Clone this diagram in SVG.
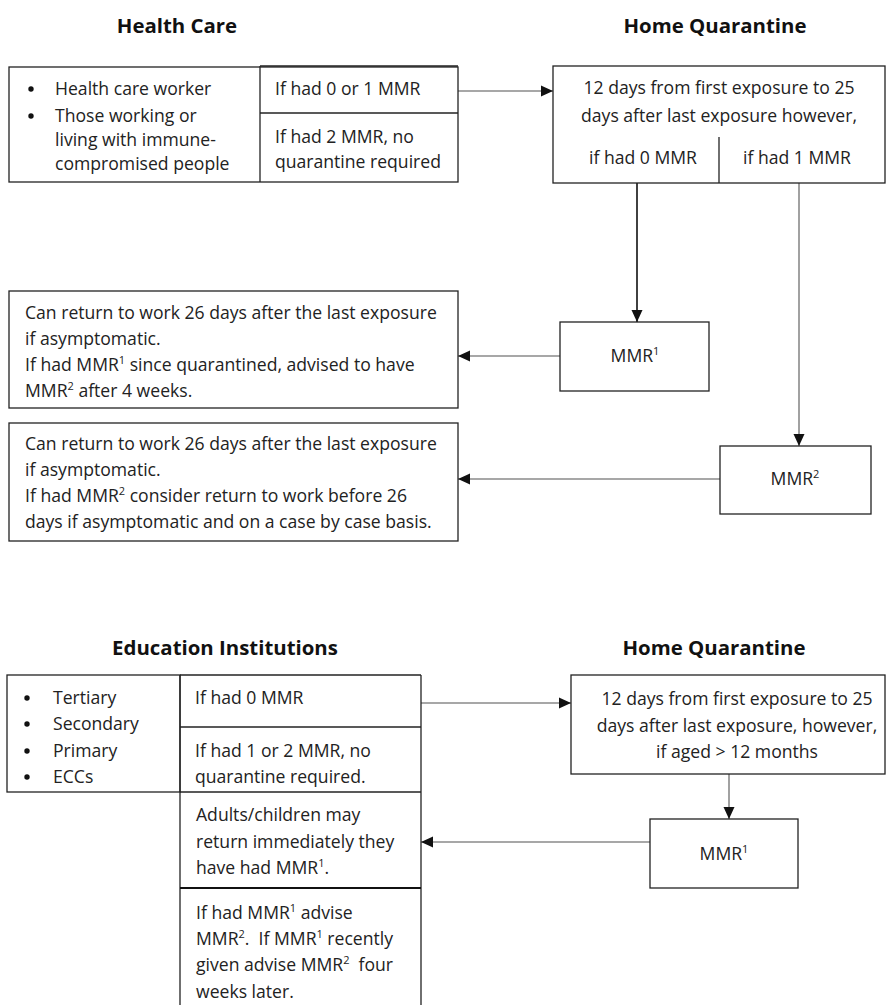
<svg xmlns="http://www.w3.org/2000/svg" width="892" height="1005" viewBox="0 0 892 1005">
<style>
text{font-family:"Open Sans","Noto Sans","Liberation Sans",sans-serif;font-size:17.6px;fill:#222}
.t{font-weight:bold;font-size:20.4px;fill:#111;text-anchor:middle}
.c{text-anchor:middle}
.box{fill:#fff;stroke:#222;stroke-width:1.3}
.ln{stroke:#222;stroke-width:1.3;fill:none}
.con{stroke:#8a8a8a;stroke-width:1.6;fill:none}
.conk{stroke:#111;stroke-width:1.6;fill:none}
.sup{font-size:11px}
</style>
<defs>
<marker id="ah" markerUnits="userSpaceOnUse" markerWidth="14" markerHeight="14" viewBox="0 0 14 14" refX="13" refY="7" orient="auto">
<path d="M1,1.5 L13,7 L1,12.5 Z" fill="#111"/>
</marker>
</defs>
<rect width="892" height="1005" fill="#fff"/>

<g id="titles">
<text class="t" x="177" y="33">Health Care</text>
<text class="t" x="715" y="33">Home Quarantine</text>
<text class="t" x="225" y="655">Education Institutions</text>
<text class="t" x="714" y="655">Home Quarantine</text>
</g>

<g id="connectors">
<line class="con" x1="458" y1="91" x2="553" y2="91" marker-end="url(#ah)"/>
<line class="conk" x1="637" y1="183" x2="637" y2="322" marker-end="url(#ah)"/>
<line class="con" x1="799" y1="183" x2="799" y2="446" marker-end="url(#ah)"/>
<line class="con" x1="560" y1="356" x2="458" y2="356" marker-end="url(#ah)"/>
<line class="con" x1="720" y1="479" x2="458" y2="479" marker-end="url(#ah)"/>
<line class="con" x1="421" y1="703" x2="571" y2="703" marker-end="url(#ah)"/>
<line class="con" x1="729" y1="774" x2="729" y2="819" marker-end="url(#ah)"/>
<line class="con" x1="650" y1="842" x2="421" y2="842" marker-end="url(#ah)"/>
</g>

<g id="hc-groups">
<rect class="box" x="9" y="67" width="449" height="115"/>
<line class="ln" x1="260" y1="66" x2="260" y2="182"/>
<line class="ln" x1="260" y1="66" x2="458" y2="66"/>
<line class="ln" x1="260" y1="113" x2="458" y2="113"/>
<circle cx="31" cy="89" r="2.7" fill="#111"/>
<circle cx="31" cy="116" r="2.7" fill="#111"/>
<text x="55" y="95">Health care worker</text>
<text x="55" y="122">Those working or</text>
<text x="55" y="146">living with immune-</text>
<text x="55" y="170">compromised people</text>
<text x="275" y="95">If had 0 or 1 MMR</text>
<text x="275" y="143">If had 2 MMR, no</text>
<text x="275" y="168">quarantine required</text>
</g>

<g id="hc-quarantine">
<rect class="box" x="553" y="66" width="332" height="117"/>
<line class="ln" x1="719" y1="137" x2="719" y2="183"/>
<text class="c" x="719" y="94">12 days from first exposure to 25</text>
<text class="c" x="719" y="122">days after last exposure however,</text>
<text class="c" x="643" y="164">if had 0 MMR</text>
<text class="c" x="797" y="164">if had 1 MMR</text>
</g>

<g id="hc-mmr1">
<rect class="box" x="560" y="322" width="149" height="69"/>
<text class="c" x="635" y="362">MMR<tspan class="sup" dy="-7">1</tspan></text>
</g>

<g id="hc-mmr2">
<rect class="box" x="720" y="446" width="151" height="68"/>
<text class="c" x="795" y="485">MMR<tspan class="sup" dy="-7">2</tspan></text>
</g>

<g id="hc-result1">
<rect class="box" x="9" y="291" width="449" height="117"/>
<text x="25" y="319">Can return to work 26 days after the last exposure</text>
<text x="25" y="345">if asymptomatic.</text>
<text x="25" y="371">If had MMR<tspan class="sup" dy="-7">1</tspan><tspan dy="7"> since quarantined, advised to have</tspan></text>
<text x="25" y="397">MMR<tspan class="sup" dy="-7">2</tspan><tspan dy="7"> after 4 weeks.</tspan></text>
</g>

<g id="hc-result2">
<rect class="box" x="9" y="423" width="449" height="118"/>
<text x="25" y="450">Can return to work 26 days after the last exposure</text>
<text x="25" y="476">if asymptomatic.</text>
<text x="25" y="502">If had MMR<tspan class="sup" dy="-7">2</tspan><tspan dy="7"> consider return to work before 26</tspan></text>
<text x="25" y="528">days if asymptomatic and on a case by case basis.</text>
</g>

<g id="edu-groups">
<rect class="box" x="7" y="675" width="173" height="117"/>
<line class="ln" x1="180" y1="675" x2="421" y2="675"/>
<line class="ln" x1="421" y1="675" x2="421" y2="1006"/>
<line class="ln" x1="180" y1="675" x2="180" y2="1006"/>
<line class="ln" x1="180" y1="727" x2="421" y2="727"/>
<line class="ln" x1="180" y1="792" x2="421" y2="792"/>
<circle cx="27" cy="698" r="2.7" fill="#111"/>
<circle cx="27" cy="724" r="2.7" fill="#111"/>
<circle cx="27" cy="751" r="2.7" fill="#111"/>
<circle cx="27" cy="777" r="2.7" fill="#111"/>
<text x="53" y="704">Tertiary</text>
<text x="53" y="730">Secondary</text>
<text x="53" y="757">Primary</text>
<text x="53" y="783">ECCs</text>
<text x="195" y="704">If had 0 MMR</text>
<text x="195" y="757">If had 1 or 2 MMR, no</text>
<text x="195" y="783">quarantine required.</text>
</g>

<g id="edu-return">
<text x="196" y="821">Adults/children may</text>
<text x="196" y="848">return immediately they</text>
<text x="196" y="874">have had MMR<tspan class="sup" dy="-7">1</tspan><tspan dy="7">.</tspan></text>
</g>

<g id="edu-advise">
<line x1="180" y1="888" x2="421" y2="888" stroke="#111" stroke-width="2.2"/>
<text x="196" y="919">If had MMR<tspan class="sup" dy="-7">1</tspan><tspan dy="7"> advise</tspan></text>
<text x="196" y="945" xml:space="preserve">MMR<tspan class="sup" dy="-7">2</tspan><tspan dy="7">.  If MMR</tspan><tspan class="sup" dy="-7">1</tspan><tspan dy="7"> recently</tspan></text>
<text x="196" y="971" xml:space="preserve">given advise MMR<tspan class="sup" dy="-7">2</tspan><tspan dy="7">  four</tspan></text>
<text x="196" y="998">weeks later.</text>
</g>

<g id="edu-quarantine">
<rect class="box" x="571" y="675" width="314" height="99"/>
<text class="c" x="737" y="705">12 days from first exposure to 25</text>
<text class="c" x="737" y="732">days after last exposure, however,</text>
<text class="c" x="737" y="758">if aged &gt; 12 months</text>
</g>

<g id="edu-mmr1">
<rect class="box" x="650" y="819" width="148" height="69"/>
<text class="c" x="724" y="860">MMR<tspan class="sup" dy="-7">1</tspan></text>
</g>
</svg>
